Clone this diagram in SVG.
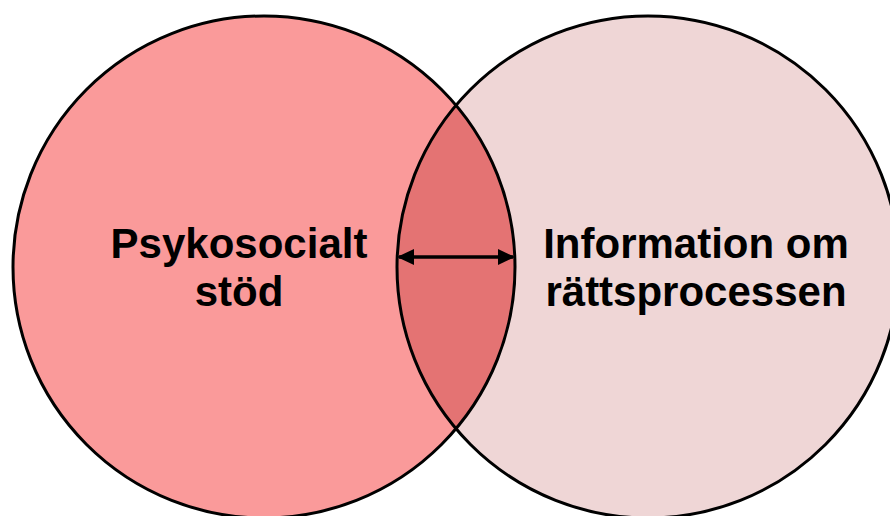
<svg xmlns="http://www.w3.org/2000/svg" width="890" height="516" viewBox="0 0 890 516">
<defs>
<style>
.lbl{font-family:"Liberation Sans",Arial,sans-serif;font-weight:bold;font-size:42px;fill:#000;text-anchor:middle}
.ring{fill:none;stroke:#000;stroke-width:3}
</style>
<clipPath id="cR"><circle cx="648" cy="267" r="251"/></clipPath>
<marker id="ah" viewBox="0 0 17 16" refX="15" refY="8" markerWidth="17" markerHeight="16" orient="auto-start-reverse" markerUnits="userSpaceOnUse">
<path d="M0,0 L17,8 L0,16 Z" fill="#000"/>
</marker>
</defs>
<rect width="890" height="516" fill="#FFFFFF"/>
<g id="node-information">
<circle cx="648" cy="267" r="251" fill="#EFD6D6"/>
</g>
<g id="node-psykosocialt">
<circle cx="264" cy="267" r="251" fill="#FA9A9A"/>
</g>
<g id="overlap">
<circle cx="264" cy="267" r="251" fill="#E47373" clip-path="url(#cR)"/>
</g>
<g id="outlines">
<circle class="ring" cx="264" cy="267" r="251"/>
<circle class="ring" cx="648" cy="267" r="251"/>
</g>
<g id="labels">
<text class="lbl" x="239" y="258">Psykosocialt</text>
<text class="lbl" x="239" y="306">stöd</text>
<text class="lbl" x="696" y="258">Information om</text>
<text class="lbl" x="696" y="306">rättsprocessen</text>
</g>
<g id="connectors">
<line x1="399" y1="257" x2="513" y2="257" stroke="#000" stroke-width="3.5" marker-start="url(#ah)" marker-end="url(#ah)"/>
</g>
</svg>
